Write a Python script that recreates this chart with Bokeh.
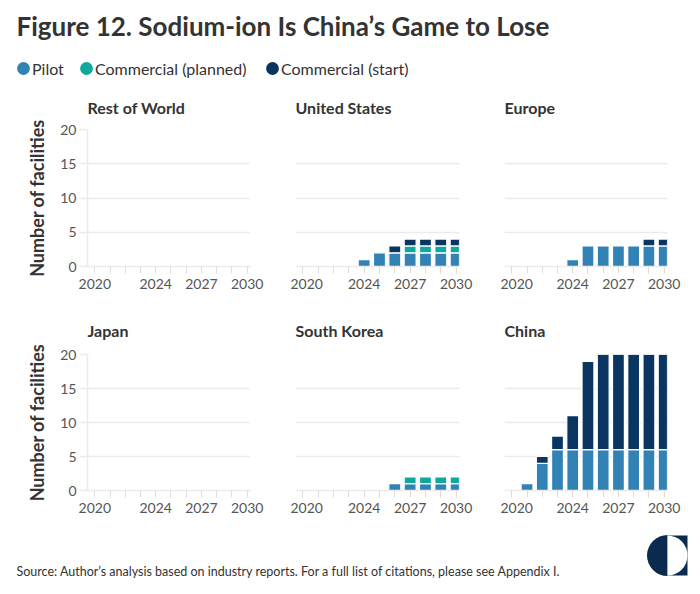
import math
from bokeh.plotting import figure
from bokeh.models import (ColumnDataSource, Range1d, FixedTicker, Label, Legend, LegendItem)
from bokeh.layouts import column, row
from bokeh.embed import file_html
from bokeh.resources import INLINE

# ---------------- data ----------------
YEARS = [2020, 2021, 2022, 2023, 2024, 2025, 2026, 2027, 2028, 2029, 2030]
X_TICK_LABELS = ["2020", "2024", "2027", "2030"]
Y_TICKS = [0, 5, 10, 15, 20]
SERIES = ["Pilot", "Commercial (planned)", "Commercial (start)"]
COLORS = ["#3282b6", "#0fa89b", "#0a3561"]

REGIONS = ["Rest of World", "United States", "Europe", "Japan", "South Korea", "China"]

row_pilot = [0, 0, 0, 0, 0, 0, 0, 0, 0, 0, 0]
row_planned = [0, 0, 0, 0, 0, 0, 0, 0, 0, 0, 0]
row_start = [0, 0, 0, 0, 0, 0, 0, 0, 0, 0, 0]

us_pilot = [0, 0, 0, 0, 1, 2, 2, 2, 2, 2, 2]
us_planned = [0, 0, 0, 0, 0, 0, 0, 1, 1, 1, 1]
us_start = [0, 0, 0, 0, 0, 0, 1, 1, 1, 1, 1]

eu_pilot = [0, 0, 0, 0, 1, 3, 3, 3, 3, 3, 3]
eu_planned = [0, 0, 0, 0, 0, 0, 0, 0, 0, 0, 0]
eu_start = [0, 0, 0, 0, 0, 0, 0, 0, 0, 1, 1]

jp_pilot = [0, 0, 0, 0, 0, 0, 0, 0, 0, 0, 0]
jp_planned = [0, 0, 0, 0, 0, 0, 0, 0, 0, 0, 0]
jp_start = [0, 0, 0, 0, 0, 0, 0, 0, 0, 0, 0]

kr_pilot = [0, 0, 0, 0, 0, 0, 1, 1, 1, 1, 1]
kr_planned = [0, 0, 0, 0, 0, 0, 0, 1, 1, 1, 1]
kr_start = [0, 0, 0, 0, 0, 0, 0, 0, 0, 0, 0]

cn_pilot = [0, 1, 4, 6, 6, 6, 6, 6, 6, 6, 6]
cn_planned = [0, 0, 0, 0, 0, 0, 0, 0, 0, 0, 0]
cn_start = [0, 0, 1, 2, 5, 13, 14, 14, 14, 14, 14]

TITLE = "Figure 12. Sodium-ion Is China\u2019s Game to Lose"
Y_LABEL = "Number of facilities"
SOURCE = ("Source: Author\u2019s analysis based on industry reports. "
          "For a full list of citations, please see Appendix I.")

# ---------------- style ----------------
FONT = "Lato"
TEXT_DARK = "#333333"
TEXT_MID = "#555555"
GRID = "#ebebeb"
NAVY = "#0a2a4f"


def make_panel(title, series_values, width, height, bl, br, bt, bb, show_y, title_standoff):
    p = figure(width=width, height=height,
               x_range=Range1d(2019.52, 2030.22), y_range=Range1d(0, 20),
               toolbar_location=None, output_backend="svg",
               min_border_left=bl, min_border_right=br,
               min_border_top=bt, min_border_bottom=bb,
               outline_line_color=None, background_fill_color="white",
               border_fill_color="white")
    p.title.text = title
    p.title.text_font = FONT
    p.title.text_font_size = "16px"
    p.title.text_font_style = "bold"
    p.title.text_color = TEXT_DARK
    p.title.align = "left"
    p.title.offset = 0
    p.title.standoff = title_standoff

    # stacked bars built from the series arrays
    cum = [0] * len(YEARS)
    for vals, color in zip(series_values, COLORS):
        xs, bots, tops = [], [], []
        for i, (yr, v) in enumerate(zip(YEARS, vals)):
            if v > 0:
                xs.append(yr)
                bots.append(cum[i])
                tops.append(cum[i] + v)
            cum[i] += v
        src = ColumnDataSource(dict(x=xs, bottom=bots, top=tops))
        p.vbar(x="x", bottom="bottom", top="top", width=0.78, source=src,
               fill_color=color, line_color="white", line_width=1.2)

    p.xgrid.visible = False
    p.ygrid.grid_line_color = GRID
    p.ygrid.grid_line_width = 1.5

    xa = p.xaxis[0]
    xa.ticker = FixedTicker(ticks=YEARS)
    xa.major_label_overrides = {y: (str(y) if str(y) in X_TICK_LABELS else "") for y in YEARS}
    xa.major_tick_out = 7
    xa.major_tick_in = 0
    xa.minor_tick_line_color = None
    xa.major_tick_line_color = "#dddddd"
    xa.axis_line_color = GRID
    xa.axis_line_width = 1.5
    xa.major_label_text_font = FONT
    xa.major_label_text_font_size = "14px"
    xa.major_label_text_color = TEXT_MID
    xa.major_label_standoff = 5

    ya = p.yaxis[0]
    ya.ticker = FixedTicker(ticks=Y_TICKS)
    if show_y:
        ya.major_tick_out = 8
        ya.major_tick_in = 0
        ya.minor_tick_line_color = None
        ya.major_tick_line_color = GRID
        ya.major_tick_line_width = 1.5
        ya.axis_line_color = GRID
        ya.axis_line_width = 1.5
        ya.major_label_text_font = FONT
        ya.major_label_text_font_size = "14px"
        ya.major_label_text_color = TEXT_MID
        ya.major_label_standoff = 3
        ya.axis_label = Y_LABEL
        ya.axis_label_text_font = FONT
        ya.axis_label_text_font_size = "18px"
        ya.axis_label_text_font_style = "bold"
        ya.axis_label_text_color = TEXT_DARK
        ya.axis_label_standoff = 9
    else:
        ya.visible = False
    return p


# ---------------- header ----------------
HEADER_H = 81
header = figure(width=698, height=HEADER_H, x_range=Range1d(0, 698), y_range=Range1d(0, HEADER_H),
                x_axis_type=None, y_axis_type=None, toolbar_location=None, title=None,
                output_backend="svg", min_border=0, outline_line_color=None)
header.add_layout(Label(x=16, y=HEADER_H - 25.5, x_units="screen", y_units="screen", text=TITLE,
                        text_font=FONT, text_font_size="26px", text_font_style="bold",
                        text_color=TEXT_DARK, text_baseline="middle"))
legend_x = [15, 78, 264]
for name, color, lx in zip(SERIES, COLORS, legend_x):
    # legend-only swatch renderer, placed outside the visible range
    src = ColumnDataSource(dict(x=[-50], y=[-50]))
    r = header.ellipse(x="x", y="y", width=12, height=12, source=src,
                       fill_color=color, line_color=None)
    lg = Legend(items=[LegendItem(label=name, renderers=[r])], orientation="horizontal",
                location=(lx, 3), glyph_width=16, glyph_height=20, label_standoff=1,
                padding=0, margin=0, border_line_color=None, background_fill_alpha=0,
                label_text_font=FONT, label_text_font_size="16px",
                label_text_color=TEXT_DARK)
    header.add_layout(lg)

# ---------------- panels ----------------
data = [
    (row_pilot, row_planned, row_start),
    (us_pilot, us_planned, us_start),
    (eu_pilot, eu_planned, eu_start),
    (jp_pilot, jp_planned, jp_start),
    (kr_pilot, kr_planned, kr_start),
    (cn_pilot, cn_planned, cn_start),
]
col_geom = [(290, 87, 40, True), (210, 5, 41, False), (198, 4, 31, False)]
row_geom = [(221, 48, 36, 26), (228, 52, 40, 29)]

panels = []
for k, (region, vals) in enumerate(zip(REGIONS, data)):
    r_i, c_i = divmod(k, 3)
    w, bl, br, sy = col_geom[c_i]
    h, bt, bb, ts = row_geom[r_i]
    panels.append(make_panel(region, vals, w, h, bl, br, bt, bb, sy, ts))

# ---------------- footer ----------------
FOOT_H = 60
footer = figure(width=698, height=FOOT_H, x_range=Range1d(0, 698), y_range=Range1d(0, FOOT_H),
                x_axis_type=None, y_axis_type=None, toolbar_location=None, title=None,
                output_backend="svg", min_border=0, outline_line_color=None)
footer.add_layout(Label(x=16, y=19, x_units="screen", y_units="screen", text=SOURCE,
                        text_font=FONT, text_font_size="12.5px", text_color=TEXT_DARK,
                        text_baseline="middle"))
footer.quad(left=[667], right=[687], bottom=[15], top=[55], fill_color=NAVY, line_color=None)
footer.wedge(x=[667], y=[35], radius=20.5, start_angle=math.pi / 2, end_angle=3 * math.pi / 2,
             fill_color=NAVY, line_color=None)
footer.wedge(x=[667], y=[35], radius=20, start_angle=-math.pi / 2, end_angle=math.pi / 2,
             fill_color="white", line_color=None)

layout = column(header, row(*panels[:3]), row(*panels[3:]), footer, spacing=0)

open("out.html", "w").write(file_html(layout, INLINE))
